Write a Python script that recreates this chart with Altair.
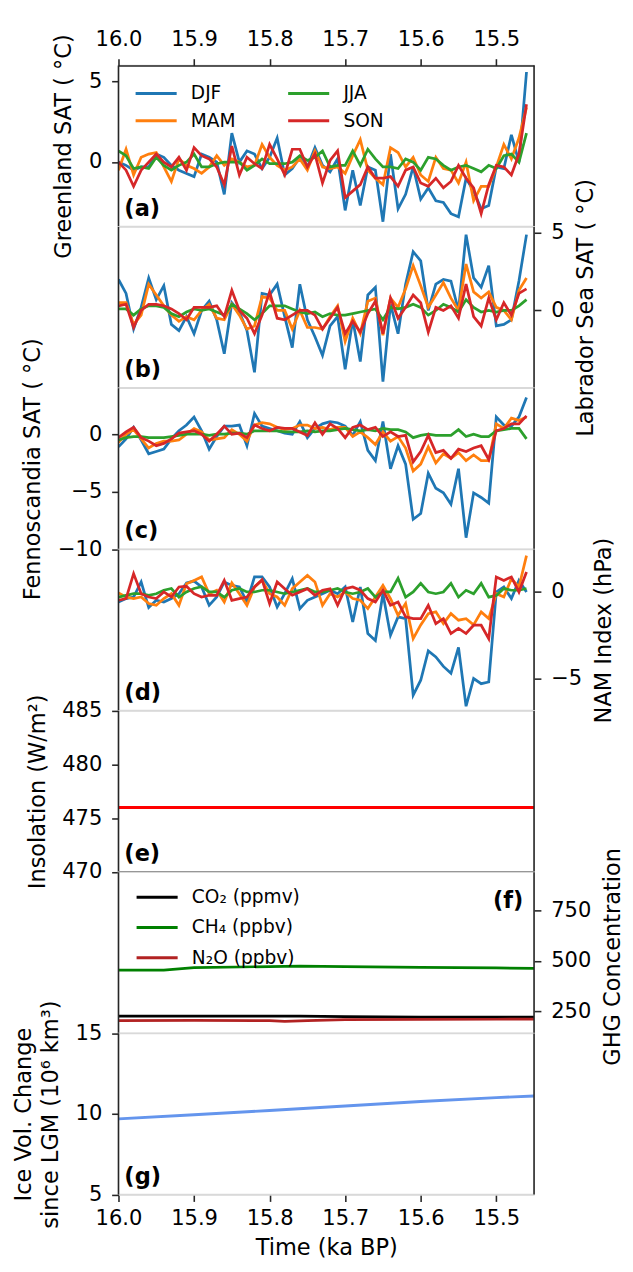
import altair as alt
import pandas as pd

# ---------------- data ----------------
TIME = [round(16.0 - 0.01 * i, 2) for i in range(55)]
SEASONS = ["DJF", "MAM", "JJA", "SON"]
SEASON_COLORS = ["#1f77b4", "#ff7f0e", "#2ca02c", "#d62728"]
X_TICKS = [16.0, 15.9, 15.8, 15.7, 15.6, 15.5]

# (a) Greenland SAT
GRL_DJF = [0.0, -0.2, -0.5, -0.3, -0.3, 0.5, 0.3, -0.2, -0.5, -0.7,
           -0.9, 0.5, 0.3, 0.0, -2.0, 1.8, 0.0, 0.7, 0.5, -0.4,
           0.3, 1.5, -0.8, -0.4, 0.3, -0.3, 0.9, -0.2, -0.6, 0.2,
           -3.0, -0.5, -2.7, -0.3, -0.5, -3.7, 0.5, -2.9, -2.0, -0.3,
           -2.3, -1.6, -2.4, -2.5, -3.2, -3.4, -1.0, -1.8, -2.9, -2.7,
           -0.3, -0.4, 1.7, 0.0, 5.6]
GRL_MAM = [-0.5, 0.8, -0.8, 0.3, 0.5, 0.6, -0.3, -1.2, 0.2, -0.2,
           -0.4, -0.7, -0.3, 0.4, -0.2, 0.2, 0.0, -0.3, -0.2, 1.1,
           0.3, -0.2, -0.5, -0.3, 0.2, -0.5, 0.7, -0.3, -0.4, -0.3,
           -0.7, 0.4, 1.4, -0.5, -1.0, -1.4, 0.9, 0.6, -0.3, 0.3,
           -0.8, -1.2, 0.3, -0.4, -0.5, -1.3, 0.0, -2.4, -1.5, -1.5,
           -0.3, 1.1, 0.2, 1.5, 3.4]
GRL_JJA = [0.7, 0.4, -0.4, -0.3, -0.4, 0.3, -0.2, -0.5, -0.2, 0.0,
           0.5, -0.3, -0.3, -0.1, 0.0, 0.0, 0.0, -0.5, -0.2, 0.2,
           -0.1, -0.1, -0.1, 0.0, 0.4, 0.1, 0.3, 0.7, -0.3, -0.2,
           -0.2, 0.7, -0.2, 0.8, 0.2, -0.3, -0.3, -0.4, 0.2, 0.0,
           -0.5, 0.3, 0.2, -0.2, -0.5, -0.3, -0.2, -0.4, -0.6, -0.2,
           -0.4, 0.4, 0.5, 0.0, 1.8]
GRL_SON = [0.0, -0.5, -1.5, -0.5, 0.0, 0.5, 0.0, -0.3, 0.3, -0.5,
           0.9, 0.4, 0.2, -0.3, -1.4, 1.0, -0.8, 0.3, -0.1, -0.4,
           1.1, 0.2, -0.8, 0.8, 0.8, -0.3, 0.5, -1.3, 0.1, 0.7,
           -2.2, -1.8, -1.4, -0.3, -1.0, -1.0, -0.9, -1.5, -0.5, -0.3,
           -1.3, -1.5, -1.0, -1.6, -1.2, -0.2, -1.0, -1.6, -3.2, -1.4,
           -0.2, -0.3, -0.8, 0.5, 3.6]

# (b) Labrador Sea SAT
LAB_DJF = [2.0, 1.1, -1.2, 0.2, 2.1, 0.7, 1.6, -0.9, -1.3, -0.4,
           -1.5, 0.0, 0.6, -0.6, -2.8, 0.5, -0.1, -1.3, -4.0, 1.1,
           1.0, 1.7, -0.4, -2.4, 1.7, -0.6, -1.7, -2.9, -1.0, -0.4,
           -3.8, -0.6, -3.3, 1.0, 1.5, -4.6, 0.4, -1.5, 1.7, 3.8,
           3.2, 0.0, 1.7, 2.0, 1.9, 0.0, 4.9, 2.1, 1.5, 2.9,
           -1.0, -0.9, -0.6, 1.9, 4.9]
LAB_MAM = [0.5, 0.5, -0.9, -0.3, 1.7, 1.0, 0.3, -0.3, -0.7, -0.4,
           -0.6, 0.0, 0.4, -0.5, -0.6, 0.4, -0.3, -1.2, -1.0, 0.9,
           0.8, 0.0, 0.0, -1.2, 0.0, -1.1, -1.1, -1.2, -0.4, 0.3,
           -2.0, -0.5, -1.5, 0.6, 0.8, -1.6, 0.8, 0.2, 1.4, 2.9,
           1.6, 0.2, 1.0, 1.8, 0.8, 0.0, 3.0, 1.2, 0.8, 1.2,
           0.2, 0.0, -0.6, 1.3, 2.1]
LAB_JJA = [0.1, 0.1, -0.3, 0.1, 0.3, 0.3, 0.2, -0.2, -0.4, -0.1,
           0.1, 0.0, 0.1, -0.1, -0.3, 0.4, 0.1, -0.2, -0.6, -0.2,
           0.3, 0.3, 0.3, 0.1, -0.1, -0.2, -0.1, -0.4, -0.2, -0.3,
           -0.3, -0.2, -0.1, 0.0, 0.1, -0.6, 0.2, 0.1, 0.2, 0.4,
           0.2, -0.3, 0.0, 0.4, 0.2, -0.1, 0.7, 0.2, -0.1, 0.0,
           -0.1, 0.0, 0.0, 0.3, 0.7]
LAB_SON = [0.3, 0.4, -1.1, 0.0, 0.4, 0.4, 0.3, 0.1, -0.2, -0.6,
           0.2, 0.2, 0.2, 0.3, -0.4, 1.3, 0.0, -0.5, -1.5, -0.3,
           1.2, -0.5, -0.6, -0.3, 0.0, 0.0, -0.3, -1.2, -0.5, 0.2,
           -1.5, -0.7, -1.4, -0.2, 0.6, -1.5, 0.8, -0.5, 0.2, 1.0,
           0.5, -1.4, 0.2, 0.0, 0.3, -0.5, 1.7, -0.4, -1.0, 0.8,
           -0.6, 0.5, -0.3, 1.1, 1.4]

# (c) Fennoscandia SAT
FEN_DJF = [-1.1, -0.4, 0.6, -0.5, -1.7, -1.5, -1.3, -0.4, 0.3, 0.8,
           1.5, 0.3, -1.3, -0.2, 0.7, 0.7, 0.8, -1.0, 1.8, 0.7,
           0.5, 0.3, 0.1, 0.0, 1.1, -0.3, 0.5, 0.9, 1.1, 1.0,
           0.7, -0.1, 1.1, -1.4, -2.3, 1.1, -3.0, -1.0, -2.6, -7.4,
           -6.9, -3.4, -4.7, -5.1, -6.1, -3.0, -9.0, -5.1, -5.5, -6.0,
           1.5, 0.8, 0.7, 1.5, 3.2]
FEN_MAM = [-0.7, 0.0, 0.4, -0.4, -1.2, -0.8, -0.6, -0.6, -0.5, 0.0,
           0.5, 0.2, -0.5, -0.4, -0.3, 0.4, 0.0, -0.6, 0.8, 1.0,
           0.9, 0.6, 0.4, 0.5, 0.8, 0.8, 0.5, 0.6, 0.4, 0.6,
           0.6, -0.2, 0.2, -0.3, -0.9, 0.2, -0.6, -0.2, -1.2, -3.2,
           -2.6, -1.1, -2.5, -1.7, -2.1, -1.6, -2.3, -1.8, -2.3, -2.3,
           0.9, 0.5, 1.4, 1.2, 1.5]
FEN_JJA = [-0.5, -0.3, -0.2, -0.2, -0.3, -0.3, -0.3, -0.2, -0.1, 0.0,
           0.0, 0.0, -0.1, 0.0, 0.0, 0.1, 0.1, 0.0, 0.3, 0.3,
           0.3, 0.3, 0.2, 0.2, 0.2, 0.3, 0.2, 0.3, 0.3, 0.4,
           0.5, 0.4, 0.3, 0.4, 0.3, 0.5, 0.4, 0.4, 0.2, -0.3,
           -0.1, 0.0, -0.1, -0.1, -0.1, 0.4, -0.2, 0.0, -0.2, -0.2,
           0.3, 0.4, 0.5, 0.5, -0.4]
FEN_SON = [-0.3, 0.2, 0.6, -0.3, -0.6, -1.0, -0.8, -0.4, 0.1, 0.2,
           0.3, 0.0, -0.6, 0.0, 0.7, 0.0, 0.1, -0.3, 0.8, 0.5,
           0.3, 0.6, 0.5, 0.5, 0.2, -0.1, 1.0, 0.0, 0.9, 0.5,
           -0.3, 0.6, 0.8, 0.4, 0.6, -0.2, 0.2, -0.2, -0.1, -2.4,
           -1.5, -0.1, -1.6, -1.4, -2.1, -1.3, -1.5, -1.2, -1.0, -2.2,
           0.3, 0.5, 0.9, 0.9, 1.6]

# (d) NAM index
NAM_DJF = [-0.58, -0.38, -0.29, 0.58, -0.9, -0.48, -0.58, -0.38, -0.1, 0.52,
           0.63, 0.29, -0.77, -0.29, 0.58, 0.38, 0.29, -0.58, 0.87, 0.87,
           0.29, -0.87, -0.1, 0.77, -0.96, -0.48, -0.29, -0.1, 0.1, -0.1,
           0.29, -1.73, 0.29, -2.4, -2.8, -0.1, -2.5, -1.44, -1.54, -5.96,
           -5.1, -3.4, -3.75, -4.3, -4.7, -3.2, -6.6, -5.0, -5.3, -5.2,
           0.0, 0.29, -0.38, 0.67, 0.0]
NAM_MAM = [-0.06, -0.29, -0.38, -0.29, -0.67, -0.77, -0.38, -0.1, -0.77, 0.48,
           0.67, 0.87, -0.1, 0.1, -0.58, 0.52, -0.1, -0.77, 0.29, 0.67,
           -0.1, -0.29, -0.77, 0.19, 0.58, 0.96, 0.58, -0.77, -0.1, -0.29,
           0.0, -0.38, -0.48, -0.96, -0.29, 0.38, -0.38, -1.35, -0.67, -2.7,
           -1.9, -1.25, -1.15, -1.83, -1.25, -1.63, -1.54, -1.9, -1.15, -1.54,
           -0.1, -0.29, 0.77, 0.29, 2.1]
NAM_JJA = [-0.3, -0.2, -0.1, -0.1, -0.2, -0.1, 0.1, 0.2, -0.3, 0.0,
           0.2, 0.3, 0.0, 0.0, -0.3, 0.1, 0.2, 0.0, 0.0, 0.1,
           0.1, 0.0, -0.1, 0.0, 0.1, 0.2, 0.0, 0.0, 0.1, 0.2,
           0.0, -0.1, 0.0, 0.2, -0.3, 0.0, 0.0, 0.8, -0.3, 0.0,
           0.5, 0.0, -0.1, 0.0, 0.5, -0.3, 0.1, -0.1, 0.5, -0.3,
           -0.2, 0.2, 0.1, 0.1, 0.2]
NAM_SON = [-0.48, -0.38, 1.06, -0.1, -0.29, -0.38, 0.0, -0.29, 0.29, 0.33,
           -0.1, -0.29, -0.19, -0.19, 0.67, -0.48, -0.38, -0.29, 0.29, 0.71,
           -0.67, 0.58, 0.19, -0.19, 0.0, 0.19, -0.19, 0.1, 0.19, -0.77,
           0.19, 0.29, 0.1, -0.38, -0.58, 0.1, -0.77, -0.58, -1.44, -1.54,
           -1.54, -0.77, -1.83, -1.54, -2.4, -2.1, -2.4, -1.92, -1.92, -2.7,
           0.87, 0.67, 0.87, 0.0, 1.15]

# (e) insolation
INSOL_TIME = [16.0, 15.45]
INSOL = [476.0, 476.0]

# (f) greenhouse gases
CO2_TIME = [16.0, 15.9, 15.8, 15.76, 15.7, 15.6, 15.5, 15.45]
CO2 = [226, 226, 226, 226, 224, 222, 221, 221]
CH4_TIME = [16.0, 15.94, 15.9, 15.76, 15.7, 15.6, 15.5, 15.45]
CH4 = [454, 454, 466, 474, 471, 468, 465, 463]
N2O_TIME = [16.0, 15.9, 15.8, 15.78, 15.75, 15.7, 15.6, 15.5, 15.45]
N2O = [204, 205, 204, 200, 204, 209, 210, 211, 212]
GHG_NAMES = ["CO₂ (ppmv)", "CH₄ (ppbv)", "N₂O (ppbv)"]
GHG_COLORS = ["#000000", "#008000", "#b22222"]

# (g) ice volume
ICE_TIME = [16.0, 15.9, 15.8, 15.7, 15.6, 15.5, 15.45]
ICE = [9.70, 9.96, 10.22, 10.50, 10.78, 11.02, 11.12]

for arr in [GRL_DJF, GRL_MAM, GRL_JJA, GRL_SON, LAB_DJF, LAB_MAM, LAB_JJA, LAB_SON,
            FEN_DJF, FEN_MAM, FEN_JJA, FEN_SON, NAM_DJF, NAM_MAM, NAM_JJA, NAM_SON]:
    assert len(arr) == len(TIME), len(arr)

# ---------------- style ----------------
W, H = 425, 164.6
FONT = "DejaVu Sans"
DARK = "#262626"
LIGHT = "#d9d9d9"
LINE_W = 2.8
LEG_PATH = "M-2,0H2"   # 42 px long at symbolSize 441
XSCALE = alt.Scale(domain=[15.45, 16.0], reverse=True, nice=False, zero=False)


def y_axis(title, orient, ticks):
    kw = dict(orient=orient, values=ticks, title=title, format="d", titlePadding=13)
    if orient == "right":
        kw.update(titleAngle=270, titleBaseline="top", titlePadding=11)
    return alt.Axis(**kw)


def spines():
    d = alt.Data(values=[{"k": 0}])
    left = alt.Chart(d).mark_rule(color=DARK, strokeWidth=1.6).encode(
        x=alt.value(0), y=alt.value(0), y2=alt.value(H))
    right = alt.Chart(d).mark_rule(color=DARK, strokeWidth=1.6).encode(
        x=alt.value(W), y=alt.value(0), y2=alt.value(H))
    return [left, right]


def tag(text, right=False):
    d = alt.Data(values=[{"t": text}])
    if right:
        return alt.Chart(d).mark_text(align="right", baseline="alphabetic", font=FONT, fontSize=23,
                                      fontWeight="bold", color="black").encode(
            x=alt.value(W - 11), y=alt.value(37), text="t:N")
    return alt.Chart(d).mark_text(align="left", baseline="alphabetic", font=FONT, fontSize=23,
                                  fontWeight="bold", color="black").encode(
        x=alt.value(6), y=alt.value(H - 11), text="t:N")


def season_panel(series, ydom, yticks, ytitle, orient, label, xaxis=None, legend=None):
    rows = [{"time": t, "value": v, "season": s}
            for s in SEASONS for t, v in zip(TIME, series[s])]
    df = pd.DataFrame(rows)
    layers = []
    for s in SEASONS:
        layers.append(
            alt.Chart(df).transform_filter(alt.datum.season == s)
            .mark_line(strokeWidth=LINE_W, clip=True)
            .encode(
                x=alt.X("time:Q", scale=XSCALE, axis=xaxis),
                y=alt.Y("value:Q", scale=alt.Scale(domain=ydom, nice=False, zero=False),
                        axis=y_axis(ytitle, orient, yticks)),
                color=alt.Color("season:N",
                                scale=alt.Scale(domain=SEASONS, range=SEASON_COLORS),
                                legend=legend),
            )
        )
    return alt.layer(*layers, *spines(), tag(label)).properties(width=W, height=H)


season_legend = alt.Legend(
    orient="none", legendX=26.5, legendY=16.5, columns=2, title=None,
    symbolType=LEG_PATH, symbolSize=441, symbolStrokeWidth=3,
    labelFont=FONT, labelFontSize=19, labelColor="black", labelOffset=23.5,
    columnPadding=47, rowPadding=6, padding=0,
)

top_axis = alt.Axis(orient="top", values=X_TICKS, format=".1f", title=None,
                    domain=True, domainColor=DARK, domainWidth=1.6, labelPadding=8)

pa = season_panel({"DJF": GRL_DJF, "MAM": GRL_MAM, "JJA": GRL_JJA, "SON": GRL_SON},
                  [-4, 6], [0, 5], "Greenland SAT ( °C)", "left", "(a)",
                  xaxis=top_axis, legend=season_legend)
pb = season_panel({"DJF": LAB_DJF, "MAM": LAB_MAM, "JJA": LAB_JJA, "SON": LAB_SON},
                  [-5.0, 5.4], [0, 5], "Labrador Sea SAT ( °C)", "right", "(b)")
pc = season_panel({"DJF": FEN_DJF, "MAM": FEN_MAM, "JJA": FEN_JJA, "SON": FEN_SON},
                  [-10, 4], [-10, -5, 0], "Fennoscandia SAT ( °C)", "left", "(c)")
pd_ = season_panel({"DJF": NAM_DJF, "MAM": NAM_MAM, "JJA": NAM_JJA, "SON": NAM_SON},
                   [-6.85, 2.45], [-5, 0], "NAM Index (hPa)", "right", "(d)")

# (e)
insol_df = pd.DataFrame({"time": INSOL_TIME, "value": INSOL})
e_line = alt.Chart(insol_df).mark_line(color="#ff0000", strokeWidth=3, clip=True).encode(
    x=alt.X("time:Q", scale=XSCALE, axis=None),
    y=alt.Y("value:Q", scale=alt.Scale(domain=[470, 485], nice=False, zero=False),
            axis=y_axis("Insolation (W/m²)", "left", [470, 475, 480, 485])),
)
e_bottom = alt.Chart(alt.Data(values=[{"k": 0}])).mark_rule(color="#555555", strokeWidth=1.6).encode(
    x=alt.value(0), x2=alt.value(W), y=alt.value(H))
pe = alt.layer(e_line, e_bottom, *spines(), tag("(e)")).properties(width=W, height=H)

# (f)
ghg_rows = ([{"time": t, "value": v, "gas": GHG_NAMES[0]} for t, v in zip(CO2_TIME, CO2)] +
            [{"time": t, "value": v, "gas": GHG_NAMES[1]} for t, v in zip(CH4_TIME, CH4)] +
            [{"time": t, "value": v, "gas": GHG_NAMES[2]} for t, v in zip(N2O_TIME, N2O)])
ghg_df = pd.DataFrame(ghg_rows)
ghg_legend = alt.Legend(
    orient="none", legendX=27.5, legendY=13.5, direction="vertical", title=None,
    symbolType=LEG_PATH, symbolSize=441, symbolStrokeWidth=3,
    labelFont=FONT, labelFontSize=19, labelColor="black", labelOffset=23.5,
    rowPadding=9, padding=0,
)
f_line = alt.Chart(ghg_df).mark_line(strokeWidth=LINE_W, clip=True).encode(
    x=alt.X("time:Q", scale=XSCALE, axis=None),
    y=alt.Y("value:Q", scale=alt.Scale(domain=[142, 938], nice=False, zero=False),
            axis=alt.Axis(orient="right", values=[250, 500, 750], format="d",
                          title="GHG Concentration", titleAngle=270, titleBaseline="top",
                          titlePadding=11, titleY=86)),
    color=alt.Color("gas:N", scale=alt.Scale(domain=GHG_NAMES, range=GHG_COLORS), legend=ghg_legend),
)
pf = alt.layer(f_line, *spines(), tag("(f)", right=True)).properties(width=W, height=H)

# (g)
ice_df = pd.DataFrame({"time": ICE_TIME, "value": ICE})
bottom_axis = alt.Axis(orient="bottom", values=X_TICKS, format=".1f", title="Time (ka BP)",
                       domain=True, domainColor=LIGHT, domainWidth=1.5, labelPadding=7,
                       titlePadding=8)
g_line = alt.Chart(ice_df).mark_line(color="#6495ED", strokeWidth=3, clip=True).encode(
    x=alt.X("time:Q", scale=XSCALE, axis=bottom_axis),
    y=alt.Y("value:Q", scale=alt.Scale(domain=[5, 15], nice=False, zero=False),
            axis=alt.Axis(orient="left", values=[5, 10, 15], format="d",
                          title=["Ice Vol. Change", "since LGM (10⁶ km³)"],
                          titlePadding=13, titleLineHeight=28)),
)
pg = alt.layer(g_line, *spines(), tag("(g)")).properties(width=W, height=H)

chart = (
    alt.vconcat(pa, pb, pc, pd_, pe, pf, pg, spacing=0, bounds="flush")
    .resolve_scale(color="independent")
    .properties(padding={"left": 3, "right": 0, "top": 6.5, "bottom": 0})
    .configure(font=FONT)
    .configure_view(stroke=LIGHT, strokeWidth=1.5)
    .configure_axis(
        labelFont=FONT, titleFont=FONT, labelFontSize=21.5, titleFontSize=23,
        titleFontWeight="normal", labelColor="black", titleColor="black",
        tickColor=DARK, tickSize=7, tickWidth=1.6, labelPadding=10,
        grid=False, domain=False, labelFlush=False, labelOverlap=False,
    )
)

chart.save("out.html", embed_options={"renderer": "svg", "actions": False})
